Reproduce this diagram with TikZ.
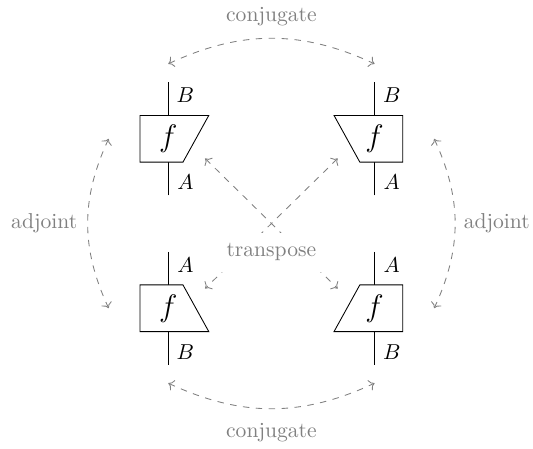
\documentclass[tikz,border=0pt]{standalone}
\usepackage{amsmath,amssymb}
\usetikzlibrary{arrows.meta,calc}
\definecolor{grisD}{HTML}{808080}

\begin{document}
\begin{tikzpicture}[>=To,
    dualidad/.style={grisD,dashed,<->},
    etiq/.style={text=grisD}]
  \useasboundingbox (-4.42,-3.67) rectangle (4.26,3.64);
  \foreach \cx/\cy/\sx/\sy/\n in {-1.68/1.38/1/1/tl, 1.68/1.38/-1/1/tr,
      -1.68/-1.38/1/-1/bl, 1.68/-1.38/-1/-1/br}{
    \begin{scope}[shift={(\cx,\cy)},xscale=\sx,yscale=\sy]
      \draw (0,-.92) -- (0,.92);
      \draw[fill=white] (-.46,-.38) -- (.24,-.38) -- (.66,.38) -- (-.46,.38) -- cycle;
      \node (f\n) at (0,0) {\Large$f$};
      \node (B\n) at ({.28*(\sx)},.71) {$B$};
      \node (A\n) at ({.28*(\sx)},-.71) {$A$};
      \coordinate (\n-t) at (.6,-.32);
      \coordinate (\n-a) at (-.97,0);
      \coordinate (\n-c) at (0,1.22);
    \end{scope}
  }
  \draw[dualidad] (tl-c) to[bend left=25] (tr-c);
  \draw[dualidad] (bl-c) to[bend right=25] (br-c);
  \draw[dualidad] (tl-a) to[bend right=25] (bl-a);
  \draw[dualidad] (tr-a) to[bend left=25] (br-a);
  \draw[dualidad] (tl-t) -- (br-t);
  \draw[dualidad] (tr-t) -- (bl-t);
  \node[etiq] (conjArr) at (0,3.37) {conjugate};
  \node[etiq] (conjAb) at (0,-3.40) {conjugate};
  \node[etiq] (adjIzq) at (-3.70,0) {adjoint};
  \node[etiq] (adjDer) at (3.67,0) {adjoint};
  \node[etiq,fill=white,inner sep=5pt] (transp) at (0,-.47) {transpose};
\end{tikzpicture}
\end{document}
